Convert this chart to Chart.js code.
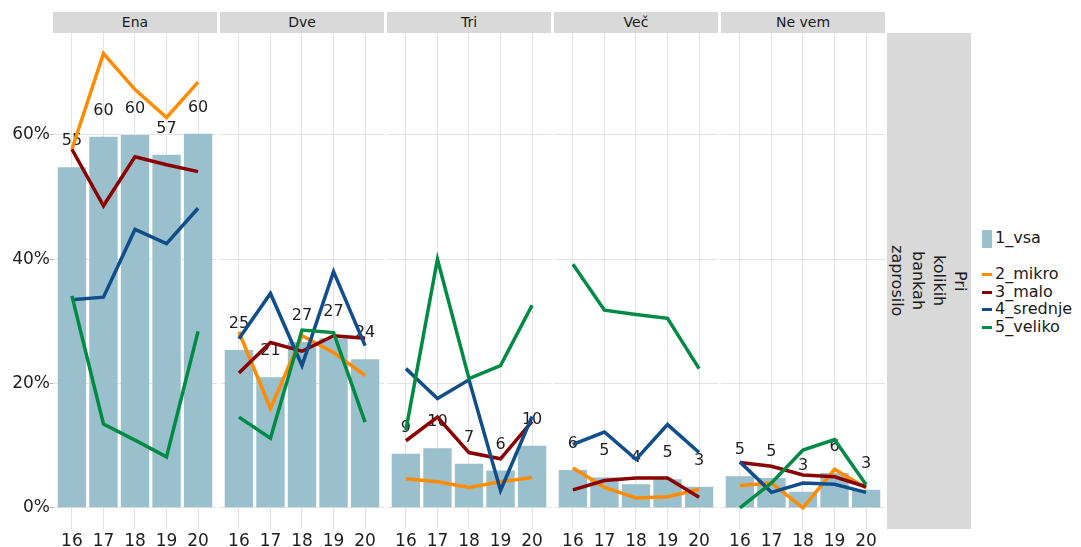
<!DOCTYPE html>
<html>
<head>
<meta charset="utf-8">
<script src="https://cdn.jsdelivr.net/npm/chart.js@4.4.1/dist/chart.umd.min.js"></script>
<style>
  body { margin: 0; background: #fff; font-family: "DejaVu Sans", sans-serif; }
  #wrap { position: relative; width: 1081px; height: 547px; overflow: hidden; }
  canvas { position: absolute; }
  .strip { position: absolute; top: 12px; height: 21px; background: #D9D9D9; color: #1a1a1a;
           font-size: 14px; line-height: 21px; text-align: center; }
  #rstrip { position: absolute; left: 887px; top: 33px; width: 84px; height: 496px; background: #D9D9D9;
            display: flex; align-items: center; justify-content: center; }
  #rstrip div { writing-mode: vertical-rl; font-size: 16px; line-height: 21px; text-align: center; color: #1a1a1a; }
  .lg { position: absolute; left: 982px; font-size: 16px; color: #1a1a1a; }
  .lg span { display: inline-block; vertical-align: middle; margin-right: 3px; }
</style>
</head>
<body>
<div id="wrap">
  <div id="rstrip"><div>Pri<br>kolikih<br>bankah<br>zaprosilo</div></div>
  <div id="legend"></div>
</div>
<script>
// leta in skupine
var years = [16, 17, 18, 19, 20];
var panels = ['Ena', 'Dve', 'Tri', 'Več', 'Ne vem'];
var yTicks = [0, 20, 40, 60];

// deleži v % (po panelih: Ena, Dve, Tri, Več, Ne vem)
var vsa = [[54.8, 59.7, 60.0, 56.8, 60.2], [25.4, 21.0, 26.7, 27.3, 23.9], [8.7, 9.6, 7.1, 6.0, 10.0], [6.1, 4.9, 3.8, 4.6, 3.4], [5.1, 4.8, 2.6, 5.6, 2.9]];
var mikro = [[57.7, 73.1, 67.3, 62.8, 68.5], [28.3, 16.0, 27.7, 25.0, 21.3], [4.7, 4.2, 3.3, 4.2, 4.9], [6.4, 3.3, 1.6, 1.8, 3.0], [3.6, 4.0, 0.0, 6.2, 3.2]];
var malo = [[57.7, 48.6, 56.5, 55.2, 54.1], [21.7, 26.6, 25.2, 27.7, 27.3], [10.8, 14.6, 8.9, 7.9, 13.9], [2.9, 4.4, 4.8, 4.8, 1.7], [7.3, 6.7, 5.3, 5.0, 3.4]];
var srednje = [[33.5, 33.9, 44.8, 42.5, 48.2], [27.2, 34.5, 22.9, 38.0, 26.1], [22.4, 17.6, 20.6, 2.8, 14.7], [10.2, 12.2, 7.8, 13.4, 8.9], [7.4, 2.5, 4.0, 3.8, 2.5]];
var veliko = [[34.1, 13.5, 10.9, 8.2, 28.4], [14.6, 11.2, 28.6, 28.2, 13.8], [12.5, 40.0, 20.8, 22.9, 32.6], [39.2, 31.8, 31.1, 30.5, 22.4], [0.0, 4.0, 9.3, 11.0, 3.7]];

var series = [
  { label: '2_mikro', vals: mikro, color: '#FF8C00' },
  { label: '3_malo', vals: malo, color: '#8B0000' },
  { label: '4_srednje', vals: srednje, color: '#104E8B' },
  { label: '5_veliko', vals: veliko, color: '#008B45' }
];
var barColor = '#9AC0CD';
var gridColor = '#E3E3E3';
var textColor = '#1f1f1f';

Chart.defaults.font.family = '"DejaVu Sans", sans-serif';

var panelLeft = [53, 220, 387, 554, 721];
var panelW = 164;
var yAxisW = 53;

function pts(arr) {
  return years.map(function(yr, i) { return { x: yr, y: arr[i] }; });
}

function noPad(s) {
  s.paddingTop = 0; s.paddingBottom = 0; s.paddingLeft = 0; s.paddingRight = 0;
}

// številke nad stolpci, pod črtami
var barLabels = {
  id: 'barLabels',
  afterDatasetDraw: function(chart, args) {
    if (args.index !== 0) return;
    var ctx = chart.ctx;
    ctx.save();
    ctx.font = '16px "DejaVu Sans"';
    ctx.fillStyle = textColor;
    ctx.textAlign = 'center';
    ctx.textBaseline = 'alphabetic';
    args.meta.data.forEach(function(bar, i) {
      var v = chart.data.datasets[0].data[i].y;
      ctx.fillText(Math.round(v), bar.x, bar.y - 22);
    });
    ctx.restore();
  }
};

var wrap = document.getElementById('wrap');

panels.forEach(function(name, p) {
  var first = p === 0;
  var strip = document.createElement('div');
  strip.className = 'strip';
  strip.style.left = panelLeft[p] + 'px';
  strip.style.width = panelW + 'px';
  strip.textContent = name;
  wrap.appendChild(strip);

  var cv = document.createElement('canvas');
  var w = panelW + (first ? yAxisW : 0);
  cv.width = w;
  cv.height = 514;
  cv.style.left = (panelLeft[p] - (first ? yAxisW : 0)) + 'px';
  cv.style.top = '33px';
  wrap.appendChild(cv);

  var datasets = [{
    type: 'bar',
    label: '1_vsa',
    data: pts(vsa[p]),
    backgroundColor: barColor,
    barPercentage: 0.9,
    categoryPercentage: 1,
    order: 10
  }];
  series.forEach(function(s, k) {
    datasets.push({
      type: 'line',
      label: s.label,
      data: pts(s.vals[p]),
      borderColor: s.color,
      borderWidth: 3.5,
      pointRadius: 0,
      tension: 0,
      borderJoinStyle: 'miter',
      clip: false,
      order: 4 - k
    });
  });

  new Chart(cv, {
    type: 'bar',
    data: { datasets: datasets },
    options: {
      responsive: false,
      animation: false,
      layout: { padding: 0 },
      plugins: { legend: { display: false }, tooltip: { enabled: false } },
      scales: {
        x: {
          type: 'linear',
          offset: false,
          min: 15.4,
          max: 20.6,
          afterBuildTicks: function(s) { s.ticks = years.map(function(v) { return { value: v }; }); },
          afterFit: function(s) { s.height = 18; noPad(s); },
          grid: { color: gridColor, drawTicks: false, offset: false },
          border: { display: false },
          ticks: { color: textColor, font: { size: 17 }, padding: 2 }
        },
        y: {
          min: -3.4,
          max: 76.4,
          afterBuildTicks: function(s) { s.ticks = yTicks.map(function(v) { return { value: v }; }); },
          afterFit: function(s) { s.width = first ? yAxisW : 0; noPad(s); },
          grid: { color: gridColor, drawTicks: first, tickLength: 3, tickColor: '#b5b5b5' },
          border: { display: false },
          ticks: {
            display: first,
            color: textColor,
            font: { size: 17 },
            padding: 0,
            callback: function(v) { return v + '%'; }
          }
        }
      }
    },
    plugins: [barLabels]
  });
});

// legenda
var legend = document.getElementById('legend');
var lgHtml = '<div class="lg" style="top:229px;line-height:18px"><span style="width:10px;height:18px;background:' + barColor + '"></span>1_vsa</div>';
series.forEach(function(s, k) {
  var top = 265 + k * 17.5;
  lgHtml += '<div class="lg" style="top:' + top + 'px;line-height:18px"><span style="width:10px;height:3px;background:' + s.color + '"></span>' + s.label + '</div>';
});
legend.innerHTML = lgHtml;
</script>
</body>
</html>
